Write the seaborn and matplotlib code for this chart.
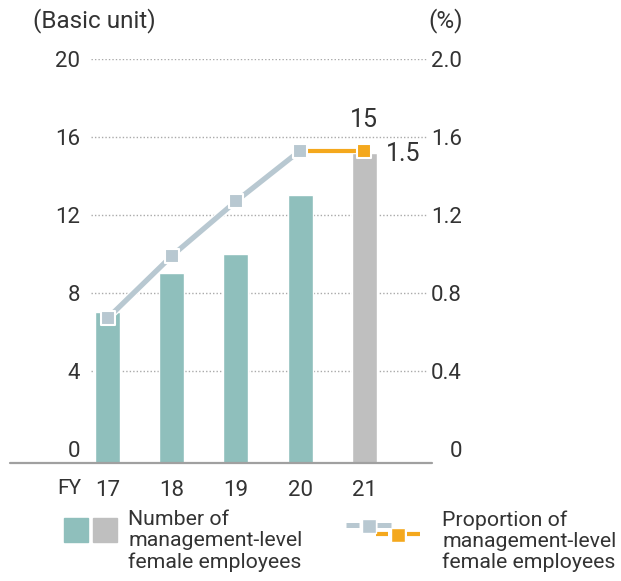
import numpy as np
import pandas as pd
import matplotlib.pyplot as plt
import matplotlib.patheffects as pe
from matplotlib.lines import Line2D
from matplotlib.patches import Rectangle
import seaborn as sns

# dados
anos = ['17', '18', '19', '20', '21']
num_gestoras = [7, 9, 10, 13, 15.2]
prop_gestoras = [0.67, 0.99, 1.27, 1.53, 1.53]
yticks_esq = [0, 4, 8, 12, 16, 20]
yticks_dir = [0, 0.4, 0.8, 1.2, 1.6, 2.0]
ytick_labels_dir = ['0', '0.4', '0.8', '1.2', '1.6', '2.0']
legenda_barras = 'Number of\nmanagement-level\nfemale employees'
legenda_linha = 'Proportion of\nmanagement-level\nfemale employees'

VERDE = '#8fbfbc'
CINZA = '#bfbfbf'
AZUL_CINZA = '#b8c8d1'
LARANJA = '#f4a81d'
TEXTO = '#333333'

sns.set_style('white')
plt.rcParams['font.family'] = ['Roboto', 'DejaVu Sans']
plt.rcParams['text.color'] = TEXTO

W, H = 621, 581
fig = plt.figure(figsize=(W / 100, H / 100), dpi=100)
ax = fig.add_axes([91 / W, 118 / H, 336 / W, 404 / H])

df = pd.DataFrame({'ano': anos, 'valor': num_gestoras})
cores = [VERDE] * (len(anos) - 1) + [CINZA]
sns.barplot(data=df, x='ano', y='valor', hue='ano', palette=cores,
            legend=False, width=0.39, ax=ax, saturation=1)

ax.set_xlim(-0.258, 4.977)
ax.set_ylim(-0.72, 20)
ymin = ax.get_ylim()[0]
# as barras descem até a linha de base (abaixo do zero)
for p in ax.patches:
    p.set_height(p.get_height() - ymin)
    p.set_y(ymin)

ax.set_yticks(yticks_esq)
ax.set_yticklabels([str(v) for v in yticks_esq])
ax.set_xlabel('')
ax.set_ylabel('')
ax.tick_params(axis='y', length=0, pad=7.9, labelsize=16, labelcolor=TEXTO)
ax.tick_params(axis='x', length=0, pad=12, labelsize=16, labelcolor=TEXTO)
for s in ax.spines.values():
    s.set_visible(False)
ax.set_axisbelow(True)
ax.grid(axis='y', color='#aaaaaa', linestyle=(0, (1, 1.5)), linewidth=1)
ax.get_ygridlines()[0].set_visible(False)
ax.axhline(ymin, xmin=-0.241, xmax=1.015, color='#a0a0a0',
           linewidth=1.6, clip_on=False, zorder=5)

ax.annotate('FY', xy=(0, 0), xycoords=ax.get_xaxis_transform(),
            xytext=(-26, -25), textcoords='offset pixels',
            ha='right', va='center', fontsize=15, color=TEXTO)

# eixo da direita (%)
ax2 = ax.twinx()
ax2.set_ylim(-0.072, 2.0)
ax2.set_yticks(yticks_dir)
ax2.set_yticklabels(ytick_labels_dir)
ax2.tick_params(axis='y', length=0, pad=25.2, labelsize=16, labelcolor=TEXTO)
for lbl in ax2.get_yticklabels():
    lbl.set_horizontalalignment('right')
for s in ax2.spines.values():
    s.set_visible(False)
ax2.grid(False)

pos = np.arange(len(anos))
# linhas (sem marcadores) e depois os marcadores quadrados
sns.lineplot(x=pos[3:], y=prop_gestoras[3:], color=LARANJA, linewidth=3,
             ax=ax2, zorder=3)
sns.lineplot(x=pos[:4], y=prop_gestoras[:4], color=AZUL_CINZA, linewidth=3.8,
             ax=ax2, zorder=4,
             path_effects=[pe.Stroke(linewidth=5.6, foreground='white'), pe.Normal()])
sns.scatterplot(x=pos[:4], y=prop_gestoras[:4], color=AZUL_CINZA, marker='s',
                s=110, edgecolor='white', linewidth=1.5, ax=ax2, zorder=5)
sns.scatterplot(x=pos[4:], y=prop_gestoras[4:], color=LARANJA, marker='s',
                s=110, edgecolor='white', linewidth=1.5, ax=ax2, zorder=5)
ax2.set_xlim(-0.258, 4.977)
ax2.set_ylabel('')

# rótulos de valor do último ano
ax.annotate(f'{num_gestoras[-1]:.0f}', xy=(pos[-1], num_gestoras[-1]),
            xytext=(0, 33), textcoords='offset pixels', ha='center', va='center',
            fontsize=18, color=TEXTO)
ax2.annotate(f'{prop_gestoras[-1]:.1f}', xy=(pos[-1], prop_gestoras[-1]),
             xytext=(22, -3), textcoords='offset pixels', ha='left', va='center',
             fontsize=18, color=TEXTO)

# títulos dos eixos
fig.text(33 / W, 1 - 21 / H, '(Basic unit)', ha='left', va='center', fontsize=17.5)
fig.text(463 / W, 1 - 21 / H, '(%)', ha='right', va='center', fontsize=17.5)

# legenda manual
def fx(x):
    return x / W

def fy(y):
    return 1 - y / H

fig.add_artist(Rectangle((fx(64), fy(542)), 24 / W, 24 / H, color=VERDE,
                         transform=fig.transFigure))
fig.add_artist(Rectangle((fx(93), fy(542)), 24 / W, 24 / H, color=CINZA,
                         transform=fig.transFigure))
fig.text(fx(128), fy(510), legenda_barras, ha='left', va='top', fontsize=15.3,
         linespacing=1.14)

for x0, x1 in [(346, 359), (377, 391)]:
    fig.add_artist(Line2D([fx(x0), fx(x1)], [fy(525), fy(525)], color=AZUL_CINZA,
                          linewidth=3.6, solid_capstyle='butt', transform=fig.transFigure))
for x0, x1 in [(376, 388), (407, 420)]:
    fig.add_artist(Line2D([fx(x0), fx(x1)], [fy(534), fy(534)], color=LARANJA,
                          linewidth=3, solid_capstyle='butt', transform=fig.transFigure))
fig.add_artist(Line2D([fx(368.5)], [fy(526)], marker='s', markersize=10.5,
                      color=AZUL_CINZA, markeredgecolor='white', markeredgewidth=1,
                      transform=fig.transFigure))
fig.add_artist(Line2D([fx(398)], [fy(535)], marker='s', markersize=10.5,
                      color=LARANJA, markeredgecolor='white', markeredgewidth=1,
                      transform=fig.transFigure))
fig.text(fx(442), fy(510), legenda_linha, ha='left', va='top', fontsize=15.3,
         linespacing=1.14)

fig.savefig('out.png', dpi=100)
